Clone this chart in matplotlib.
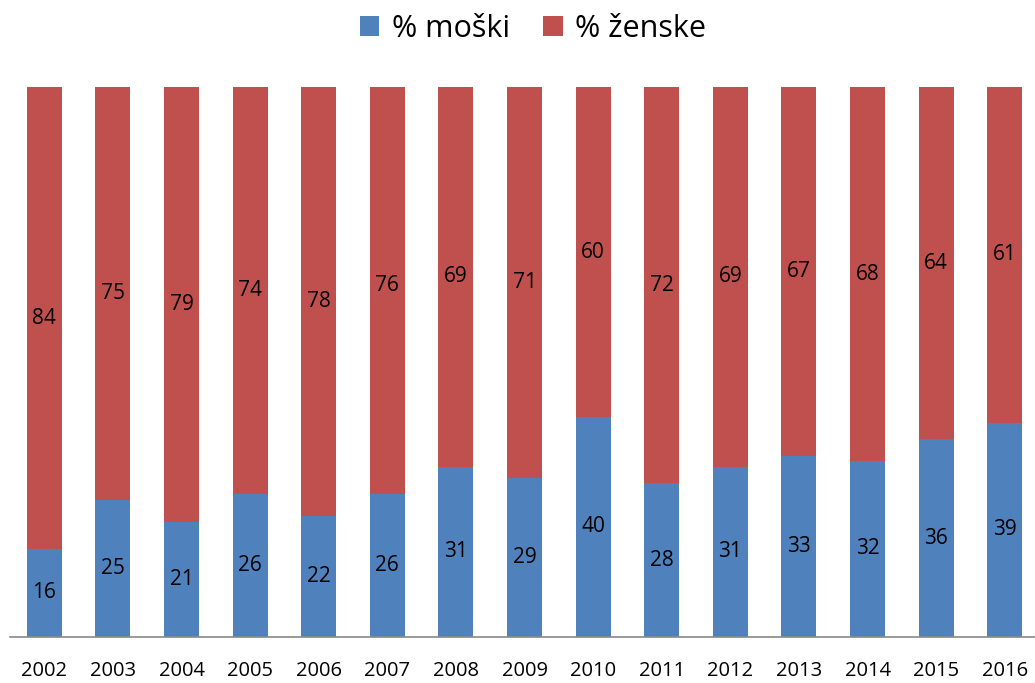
import matplotlib
matplotlib.use("Agg")
import matplotlib.pyplot as plt
import numpy as np

years = ["2002", "2003", "2004", "2005", "2006", "2007", "2008", "2009",
         "2010", "2011", "2012", "2013", "2014", "2015", "2016"]
moski = [16, 25, 21, 26, 22, 26, 31, 29, 40, 28, 31, 33, 32, 36, 39]
zenske = [84, 75, 79, 74, 78, 76, 69, 71, 60, 72, 69, 67, 68, 64, 61]

plt.rcParams['font.family'] = ['Open Sans', 'DejaVu Sans']

fig = plt.figure(figsize=(10.35, 6.83), dpi=100)
ax = fig.add_axes([10 / 1035, 1 - 637 / 683, 1025 / 1035, 550 / 683])

x = np.arange(len(years))
w = 0.51
b1 = ax.bar(x, moski, w, color='#4f81bd', label='% moški')
b2 = ax.bar(x, zenske, w, bottom=moski, color='#c0504d', label='% ženske')

for i in range(len(years)):
    ax.text(x[i], moski[i] / 2, str(moski[i]), ha='center', va='center', fontsize=15)
    ax.text(x[i], moski[i] + zenske[i] / 2, str(zenske[i]), ha='center', va='center', fontsize=15)

ax.set_xlim(-0.50, 14.44)
ax.set_ylim(0, 100)
ax.set_xticks(x)
ax.set_xticklabels(years, fontsize=14.5)
ax.tick_params(axis='x', length=0, pad=17)
ax.set_yticks([])
for s in ['top', 'right', 'left']:
    ax.spines[s].set_visible(False)
ax.spines['bottom'].set_color('#898989')
ax.spines['bottom'].set_linewidth(1.2)

fig.legend(handles=[b1, b2], loc='upper center', bbox_to_anchor=(0.515, 1.02),
           ncol=2, frameon=False, fontsize=22, handlelength=0.65, handleheight=0.65,
           columnspacing=1.1, handletextpad=0.4)

fig.savefig('out.png', dpi=100)
